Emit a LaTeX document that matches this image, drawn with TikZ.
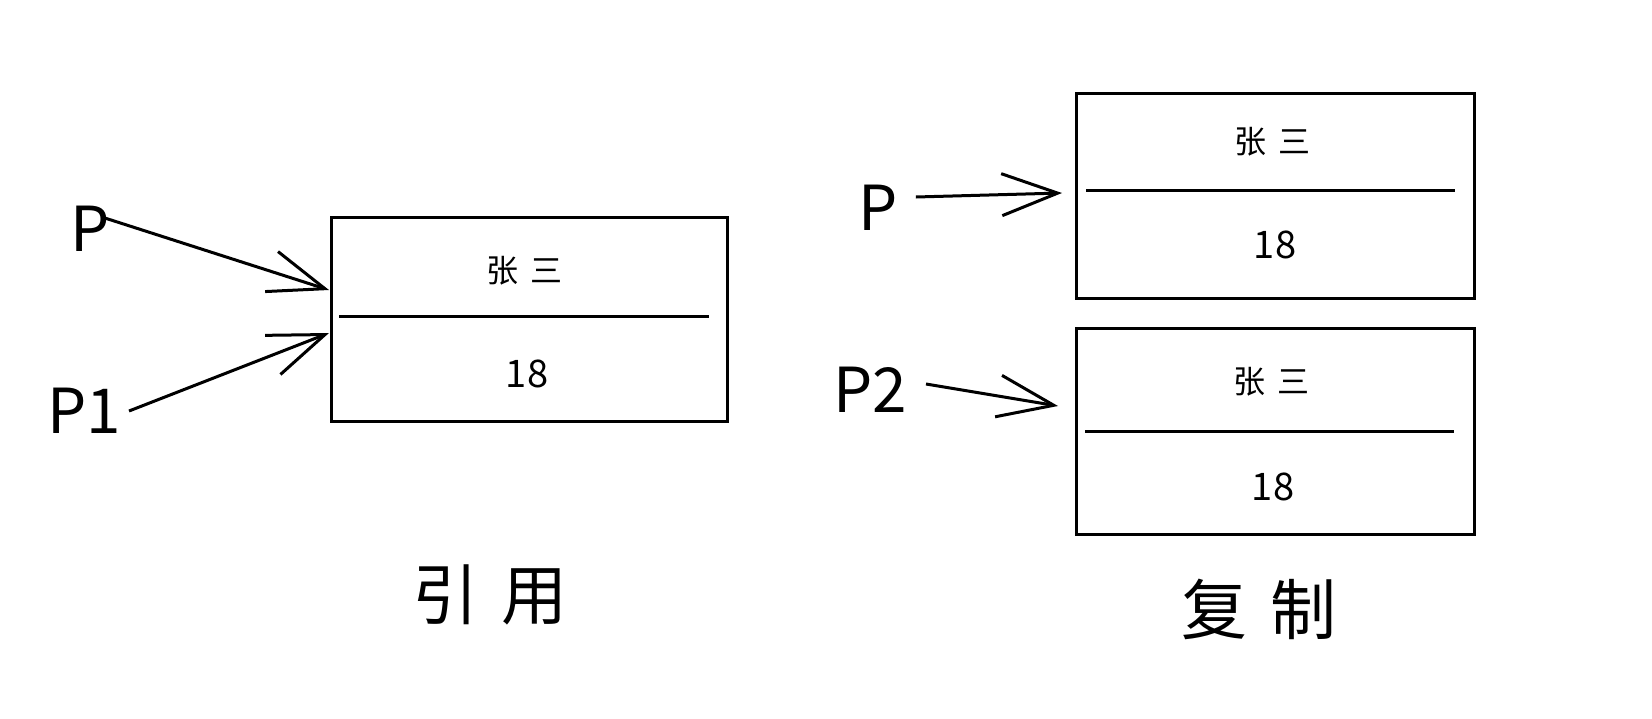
\documentclass[tikz,border=0pt]{standalone}
\usepackage{fontspec}
\setmainfont{Noto Sans CJK SC}
\usetikzlibrary{arrows.meta}
\tikzset{cell/.style={draw,line width=3pt,minimum width=398pt,minimum height=205pt,inner sep=0pt},
 field/.style={font=\fontsize{32}{36}\selectfont},
 num/.style={font=\fontsize{38}{42}\selectfont},
 ptr/.style={font=\fontsize{62}{66}\selectfont,inner sep=8pt},
 caption/.style={font=\fontsize{66}{70}\selectfont},
 link/.style={line width=3pt,-{Straight Barb[length=56pt,width=42pt,line width=3pt]}},
 sep/.style={line width=3pt},
 }

\begin{document}
\begin{tikzpicture}[x=1pt,y=-1pt]
        \useasboundingbox (0,0) rectangle (1652,718);
        % reference
        \node[cell,minimum width=396pt,minimum height=204pt] (ref) at (529,319) {};
        \draw[sep] (339,316) -- (709,316);
        \node[field] (refname) at (524,271) {张\hspace{12pt}三};
        \node[num] (refage) at (527,374) {18};
        \node[ptr] (pa) at (90,229) {P};
        \node[ptr] (pb) at (84,411) {P1};
        \coordinate (ina) at (329,290);
        \coordinate (inb) at (329,333);
        \draw[link] ([shift={(-13,-11)}]pa.east) -- (ina);
        \draw[link] (pb.east) -- (inb);
        \node[caption] (refcap) at (490,595) {引\hspace{24pt}用};
        % copy
        \node[cell] (top) at (1275,195.5) {};
        \draw[sep] (1086,190) -- (1455,190);
        \node[field] (topname) at (1272,142) {张\hspace{12pt}三};
        \node[num] (topage) at (1275,245) {18};
        \node[cell,minimum height=206pt] (bot) at (1275,431) {};
        \draw[sep] (1085,431) -- (1454,431);
        \node[field] (botname) at (1271,382) {张\hspace{12pt}三};
        \node[num] (botage) at (1273,487) {18};
        \node[ptr] (pc) at (878,208) {P};
        \node[ptr] (pd) at (870,390) {P2};
        \coordinate (inc) at (1062,193);
        \coordinate (ind) at (1058,406);
        \draw[link] ([shift={(10,-11)}]pc.east) -- (inc);
        \draw[link] ([shift={(11,-6)}]pd.east) -- (ind);
        \node[caption] (topcap) at (1259,609) {复\hspace{24pt}制};
    \end{tikzpicture}
\end{document}
